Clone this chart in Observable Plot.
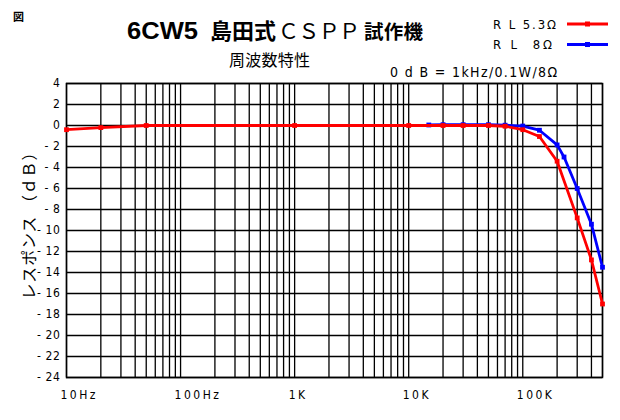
<!DOCTYPE html>
<html><head><meta charset="utf-8">
<script src="https://cdn.jsdelivr.net/npm/d3@7"></script>
<script src="https://cdn.jsdelivr.net/npm/@observablehq/plot@0.6"></script>
<style>
body{margin:0;background:#fff;}
#wrap{position:relative;width:620px;height:420px;overflow:hidden;background:#fff;}
#wrap > svg{position:absolute;left:0;top:0;}
</style></head><body><div id="wrap"></div>
<script>
// RL 5.3Ω (red)
const freqRed = [10, 20, 50, 1000, 10000, 20000, 30000, 50000, 70000, 100000, 140000, 200000, 300000, 400000, 500000];
const dbRed   = [-0.4, -0.2, 0, 0, 0, 0, 0, 0, -0.07, -0.4, -1.05, -3.4, -8.8, -12.8, -17.0];
// RL 8Ω (blue)
const freqBlue = [15000, 20000, 30000, 50000, 70000, 100000, 140000, 200000, 230000, 300000, 400000, 500000];
const dbBlue   = [0.05, 0.08, 0.08, 0.08, 0.03, -0.05, -0.45, -1.85, -3.0, -6.0, -9.4, -13.5];

const yTicks = [-24, -22, -20, -18, -16, -14, -12, -10, -8, -6, -4, -2, 0, 2, 4];
const decades = [10, 100, 1000, 10000, 100000];
const multipliers = [1, 2, 3, 4, 5, 6, 7, 8, 9];
const xLabelFreqs = [10, 100, 1000, 10000, 100000];
const xLabelTexts = ["10Hz", "100Hz", "1K", "10K", "100K"];

const red = "#ff0000", blue = "#0000ff";
const xGrid = decades.flatMap(d => multipliers.map(m => d * m)).filter(v => v <= 500000);
const redData = freqRed.map((f, i) => ({f, db: dbRed[i]}));
const blueData = freqBlue.map((f, i) => ({f, db: dbBlue[i]}));
const xLabels = xLabelFreqs.map((f, i) => ({f, label: xLabelTexts[i]}));

const chart = Plot.plot({
  width: 620, height: 420,
  marginLeft: 66, marginRight: 18, marginTop: 83, marginBottom: 43,
  style: {background: "white", color: "#000", fontFamily: "'Liberation Sans Narrow','DejaVu Sans Condensed',sans-serif", fontSize: "12px"},
  x: {type: "log", domain: [10, 500000], axis: null},
  y: {domain: [-24, 4]},
  marks: [
    Plot.ruleX(xGrid, {stroke: "#000", strokeWidth: 1.3}),
    Plot.ruleY(yTicks, {stroke: "#000", strokeWidth: 1.3}),
    Plot.frame({stroke: "#000", strokeWidth: 1.5}),
    Plot.axisY(yTicks, {tickSize: 0, tickPadding: 6, label: null, fontSize: 12,
      tickFormat: d => d < 0 ? "- " + (-d) : String(d)}),
    Plot.text(xLabels, {x: "f", text: "label", frameAnchor: "bottom", dy: 21, dx: -6,
      textAnchor: "start", fontSize: 12}),
    Plot.line(blueData, {x: "f", y: "db", stroke: blue, strokeWidth: 2.8}),
    Plot.dot(blueData, {x: "f", y: "db", symbol: "square", r: 2.7, fill: blue, stroke: "none"}),
    Plot.line(redData, {x: "f", y: "db", stroke: red, strokeWidth: 2.8}),
    Plot.dot(redData, {x: "f", y: "db", symbol: "square", r: 2.7, fill: red, stroke: "none"})
  ]
});
d3.select(chart).selectAll("text")
  .filter(function() { return xLabelTexts.includes(this.textContent); })
  .style("letter-spacing", "2.5px");
d3.select(chart).selectAll("text")
  .filter(function() { return /^-? ?\d+$/.test(this.textContent.trim()); })
  .style("letter-spacing", "0.6px");
const wrap = document.getElementById("wrap");
wrap.appendChild(chart);

const ns = "http://www.w3.org/2000/svg";
const ov = document.createElementNS(ns, "svg");
ov.setAttribute("width", 620); ov.setAttribute("height", 420);
ov.style.pointerEvents = "none";
ov.innerHTML = `
<g fill="#000">
  <text x="13" y="21" font-family="Noto Sans CJK JP" font-weight="bold" font-size="11">図</text>
  <text y="39">
    <tspan x="127" font-family="Liberation Sans" font-weight="bold" font-size="24" textLength="71" lengthAdjust="spacingAndGlyphs">6CW5</tspan>
    <tspan x="210" font-family="Noto Sans CJK JP" font-weight="bold" font-size="22" textLength="66">島田式</tspan>
    <tspan x="278" font-family="Noto Sans CJK JP" font-weight="normal" font-size="21" textLength="82">ＣＳＰＰ</tspan>
    <tspan x="364" font-family="Noto Sans CJK JP" font-weight="bold" font-size="19.5" textLength="59">試作機</tspan>
  </text>
  <text x="229" y="66" font-family="Noto Sans CJK JP" font-size="16" textLength="81">周波数特性</text>
  <text x="493" y="28.5" font-family="Liberation Sans Narrow, DejaVu Sans Condensed" font-size="13" textLength="63">R L 5.3Ω</text>
  <text x="493" y="48.5" font-family="Liberation Sans Narrow, DejaVu Sans Condensed" font-size="13" textLength="59" xml:space="preserve">R L  8Ω</text>
  <text x="390" y="77" font-family="Liberation Sans Narrow, DejaVu Sans Condensed" font-size="14" textLength="167" xml:space="preserve">0 d B = 1kHz/0.1W/8Ω</text>
  <text transform="translate(35,222) rotate(-90)" text-anchor="middle" font-family="Noto Sans CJK JP" font-size="16" textLength="155">レスポンス （ｄＢ）</text>
</g>
<line x1="567" x2="608" y1="24" y2="24" stroke="${red}" stroke-width="3"/>
<rect x="585" y="21.5" width="5" height="5" fill="${red}"/>
<line x1="567" x2="608" y1="44.5" y2="44.5" stroke="${blue}" stroke-width="3"/>
<rect x="585" y="42" width="5" height="5" fill="${blue}"/>
`;
wrap.appendChild(ov);
</script>
</body></html>
